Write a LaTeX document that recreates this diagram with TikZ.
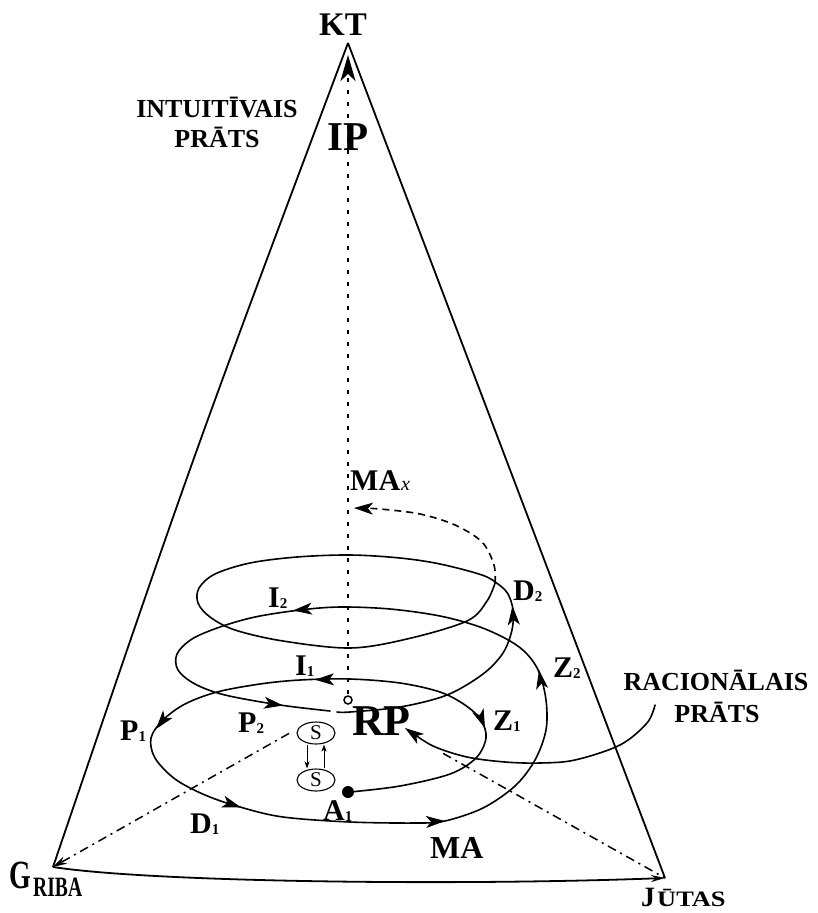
\documentclass[tikz,border=0pt]{standalone}
\usepackage{fontspec}
\setmainfont{Liberation Serif}
\usetikzlibrary{arrows.meta,shapes.geometric,calc}
\newcommand{\sbs}[1]{\raisebox{-1.5pt}{\fontsize{15}{15}\selectfont #1}}
\begin{document}
\begin{tikzpicture}[x=1pt,y=-1pt,
  pyredge/.style={line width=1.8pt},
  spiral/.style={line width=1.6pt, line cap=round, line join=round},
  tipA/.style={-{Stealth[length=19pt,width=12pt,inset=5pt]}, line width=1pt},
  tipS/.style={-{Stealth[length=7pt,width=5pt,inset=2pt]}, line width=1pt},
  axisline/.style={line width=1.5pt, dash pattern=on 4pt off 8pt},
  baseln/.style={line width=1.5pt, dash pattern=on 9pt off 5pt on 2pt off 5pt},
  lab/.style={font=\fontsize{30}{30}\selectfont\bfseries, inner sep=0pt, anchor=base west},
  captxt/.style={font=\fontsize{26}{26}\selectfont\bfseries, inner sep=0pt, anchor=base},
  sbox/.style={ellipse, draw, line width=1.1pt, minimum width=38pt, minimum height=22pt, inner sep=0pt, font=\fontsize{21}{21}\selectfont}
]
\fill[white] (0,0) rectangle (817,913);
\useasboundingbox (0,0) rectangle (817,913);

% vertices
\coordinate (KTv) at (348,43);
\coordinate (Gv) at (53,867);
\coordinate (Jv) at (665,878);
\coordinate (O) at (348,700);

% pyramid edges
\draw[pyredge] (KTv) .. controls (194,453) .. (Gv);
\draw[pyredge] (KTv) -- (Jv);
\draw[pyredge, -{Stealth[length=14pt,width=7pt]}] (Gv) .. controls (150,882) and (450,886) .. (Jv);

% axis and base lines
\draw[axisline, -{Stealth[length=26pt,width=15pt,inset=7pt]}] (348,694) -- (348,55);
\draw[baseln, -{Stealth[length=14pt,width=8pt]}] ($(O)!0.2!(Gv)$) -- (Gv);
\draw[baseln] ($(O)!0.3!(Jv)$) -- (Jv);

% spiral, first part: from start dot to P2
\draw[spiral] plot[smooth, tension=0.55] coordinates {
 (350,792) (400,786) (450,774) (476,758) (486,738) (481,720) (465,705) (440,692)
 (400,683) (350,679) (300,680) (260,684) (217,692) (185,704) (163,720) (151,738)
 (155,758) (175,779) (205,795) (240,807) (283,817) (350,822) (417,823) (445,821)
 (483,808) (515,786) (535,760) (546,730) (546,700) (539,672) (527,654) (510,641)
 (480,627) (440,616) (390,609) (340,607) (300,610) (255,617) (220,627) (192,639)
 (177,654) (178,670) (195,684) (225,695) (280,705) (330,711)};
% second part: to D2 and the upper loop
\draw[spiral] plot[smooth, tension=0.55] coordinates {
 (337,712) (350,712) (400,707) (447,695) (483,674) (503,653) (512,630) (513,610)
 (508,594) (498,584) (482,575) (440,564) (400,558) (350,555) (297,557) (250,563)
 (215,574) (199,588) (198,603) (210,617) (235,630) (283,641) (350,648) (407,639)
 (467,621) (487,601) (495,583)};
% dashed continuation to MAx
\draw[spiral, line cap=butt, dash pattern=on 7pt off 5pt] plot[smooth, tension=0.55] coordinates {
 (495,583) (494,565) (482,542) (455,525) (420,514) (380,509) (356,508)};

% rational mind pointer
\draw[spiral] plot[smooth, tension=0.55] coordinates {
 (655,705) (647,723) (620,745) (575,760) (540,763) (505,762) (467,757) (433,746) (410,731)};

% arrowheads on the spiral
\draw[tipA] (483,723) -- (485,728);
\draw[tipA] (320,679.6) -- (315,679.7);
\draw[tipA] (160,724) -- (156,729);
\draw[tipA] (236,805.8) -- (241,807.4);
\draw[tipA] (439,821.3) -- (445,821);
\draw[tipA] (540,676) -- (539,670);
\draw[tipA] (298,610) -- (293,610.5);
\draw[tipA] (277,704.6) -- (283,705.5);
\draw[tipA] (513,613) -- (512.5,606);
\draw[tipA] (410,731.5) -- (405,728);
\draw[tipA] (360,508.2) -- (354,508);

% centre mark and start dot
\node[circle, draw, line width=1.5pt, fill=white, minimum size=8pt, inner sep=0pt] (o) at (348,700) {};
\fill (348,792) circle (6pt);

% S boxes
\node[sbox] (s1) at (316,733) {S};
\node[sbox] (s2) at (316,780) {S};
\draw[tipS] ([xshift=-9pt]s1.south) -- ([xshift=-9pt]s2.north);
\draw[tipS] ([xshift=8pt]s2.north) -- ([xshift=8pt]s1.south);

% labels
\node[font=\fontsize{33}{33}\selectfont\bfseries, inner sep=0pt, anchor=base] (kt) at (343,35) {KT};
\node[font=\fontsize{41}{41}\selectfont\bfseries, inner sep=0pt, anchor=base] (ip) at (348,150) {IP};
\node[captxt] (int1) at (217,117) {INTUITĪVAIS};
\node[captxt] (int2) at (217,147) {PRĀTS};
\node[lab] (max) at (350,490) {MA\hspace{1pt}{\fontsize{20}{20}\selectfont\mdseries\itshape x}};
\node[lab] (d2) at (513,600) {D\sbs{2}};
\node[lab] (i2) at (268,607) {I\sbs{2}};
\node[lab] (z2) at (553,677) {Z\sbs{2}};
\node[lab] (i1) at (295,675) {I\sbs{1}};
\node[lab] (p1) at (120,740) {P\sbs{1}};
\node[lab] (p2) at (238,732) {P\sbs{2}};
\node[lab] (z1) at (493,730) {Z\sbs{1}};
\node[font=\fontsize{44}{44}\selectfont\bfseries, inner sep=0pt, anchor=base west] (rp) at (352,735) {RP};
\node[lab] (d1) at (190,833) {D\sbs{1}};
\node[lab] (a1) at (323,820) {A\sbs{1}};
\node[lab, font=\fontsize{32}{32}\selectfont\bfseries] (ma) at (430,858) {MA};
\node[captxt] (rac1) at (716,690) {RACIONĀLAIS};
\node[captxt] (rac2) at (717,722) {PRĀTS};
\node[inner sep=0pt, anchor=base west, font=\fontsize{40}{40}\selectfont\bfseries] (g) at (9,888) {\scalebox{0.7}[1]{G}};
\node[inner sep=0pt, anchor=base west, font=\fontsize{28}{28}\selectfont\bfseries] (riba) at (33,896) {\scalebox{0.7}[1]{RIBA}};
\node[inner sep=0pt, anchor=base west, font=\fontsize{28}{28}\selectfont\bfseries] (j) at (641,906) {J};
\node[inner sep=0pt, anchor=base west, font=\fontsize{22}{22}\selectfont\bfseries] (utas) at (657,906) {\scalebox{1.2}[1]{ŪTAS}};
\end{tikzpicture}
\end{document}
